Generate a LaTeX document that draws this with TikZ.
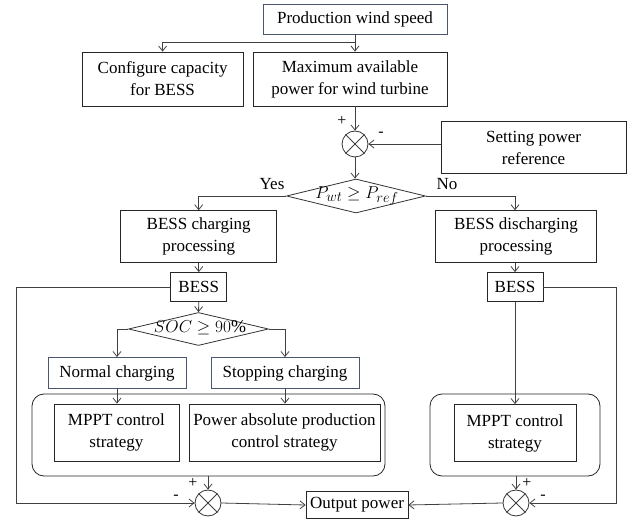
\documentclass[tikz,border=0pt]{standalone}
\usepackage{fontspec}
\setmainfont{Liberation Serif}
\usetikzlibrary{arrows.meta,shapes.geometric}
\definecolor{bluegray}{HTML}{4A5570}
\definecolor{lnc}{HTML}{404040}
\begin{document}
\begin{tikzpicture}[x=1pt,y=-1pt,
  font=\fontsize{17}{22}\selectfont,
  box/.style={draw=black!85,line width=0.8pt,rectangle,inner sep=0pt,align=center},
  bbox/.style={box,draw=bluegray},
  sumnode/.style={draw=black!80,circle,minimum size=26pt,inner sep=0pt,line width=0.8pt},
  arr/.style={draw=lnc,line width=0.8pt,-{Straight Barb[length=5pt,width=8pt]}},
  ln/.style={draw=lnc,line width=0.8pt},
  grp/.style={draw=black!85,line width=0.8pt,rounded corners=12pt,rectangle,inner sep=0pt},
  dia/.style={draw=black!80,diamond,inner sep=0pt,line width=0.8pt},
  sgn/.style={inner sep=0pt,font=\fontsize{16}{16}\selectfont},
  lbl/.style={inner sep=0pt}
]
\useasboundingbox (0,0) rectangle (627,521);

% nodes
\node[bbox,minimum width=184pt,minimum height=30pt] (ws) at (355,19) {Production wind speed};
\node[box,minimum width=161pt,minimum height=54pt] (cap) at (162.6,79) {Configure capacity\\for BESS};
\node[box,minimum width=194pt,minimum height=54pt] (maxp) at (350,79) {Maximum available\\power for wind turbine};
\node[sumnode] (s1) at (355,144) {};
\node[box,minimum width=185pt,minimum height=52pt] (setp) at (533.6,147.5) {Setting power\\reference};
\node[dia,minimum width=139pt,minimum height=34pt] (d1) at (356,196) {};
\node[lbl,font=\fontsize{19}{22}\selectfont] (d1t) at (357,196) {$P_{wt}\geq P_{ref}$};
\node[lbl] (yes) at (272,184) {Yes};
\node[lbl] (no) at (447,184) {No};
\node[box,minimum width=156pt,minimum height=52pt] (chg) at (198.7,236.7) {BESS charging\\processing};
\node[box,minimum width=161pt,minimum height=52pt] (dis) at (516,236.7) {BESS discharging\\processing};
\node[box,minimum width=56pt,minimum height=29pt] (bessL) at (198.8,287) {BESS};
\node[box,minimum width=56pt,minimum height=29pt] (bessR) at (515,287) {BESS};
\node[dia,minimum width=140pt,minimum height=33pt] (d2) at (198.5,329) {};
\node[lbl,font=\fontsize{18}{22}\selectfont] (d2t) at (200,328) {$SOC\geq 90\%$};
\node[bbox,minimum width=138pt,minimum height=31pt] (normal) at (117,373) {Normal charging};
\node[bbox,minimum width=148pt,minimum height=31pt] (stop) at (285,373) {Stopping charging};
\node[grp,minimum width=353pt,minimum height=82pt] (gL) at (208.5,435) {};
\node[grp,minimum width=170pt,minimum height=82pt] (gR) at (515,435) {};
\node[box,minimum width=125pt,minimum height=57pt] (mpptL) at (116.4,432.5) {MPPT control\\strategy};
\node[box,minimum width=191pt,minimum height=57pt] (pap) at (284.4,432.5) {Power absolute production\\control strategy};
\node[box,minimum width=122pt,minimum height=57pt] (mpptR) at (515,433) {MPPT control\\strategy};
\node[sumnode] (sL) at (208,503) {};
\node[box,minimum width=102pt,minimum height=27pt] (out) at (357,505) {Output power};
\node[sumnode] (sR) at (516,503) {};

% sum crosses
\foreach \s in {s1,sL,sR}{
  \draw[ln] (\s.north west) -- (\s.south east) (\s.north east) -- (\s.south west);
}

% signs
\node[sgn] (p1) at (342,121) {+};
\node[sgn] (m1) at (381,134) {-};
\node[sgn] (p2) at (193,483) {+};
\node[sgn] (m2) at (176,497) {-};
\node[sgn] (p3) at (527,483) {+};
\node[sgn] (m3) at (543,497) {-};

% connectors
\coordinate (br) at (355,42.3);
\draw[arr] (ws.south) -- (ws.south |- maxp.north);
\draw[arr] (br) -| (cap.north);
\draw[arr] (maxp.south -| s1) -- (s1.north);
\draw[arr] (setp.west |- s1) -- (s1.east);
\draw[arr] (s1.south) -- (s1.south |- d1.north);
\draw[arr] (d1.west) -| (chg.north);
\draw[arr] (d1.east) -| (dis.north -| bessR);
\draw[arr] (chg.south -| bessL) -- (bessL.north);
\draw[arr] (dis.south -| bessR) -- (bessR.north);
\draw[arr] (bessL.south) -- (d2.north);
\draw[arr] (d2.west) -| (normal.north);
\draw[arr] (d2.east) -| (stop.north);
\draw[arr] (normal.south) -- (normal.south |- mpptL.north);
\draw[arr] (stop.south) -- (stop.south |- pap.north);
\draw[arr] (bessR.south) -- (bessR.south |- mpptR.north);
\draw[arr] (gL.south -| sL) -- (sL.north);
\draw[arr] (gR.south -| sR) -- (sR.north);
\coordinate (lc) at (16,503);
\coordinate (rc) at (616,503);
\draw[arr] (bessL.west) -| (lc) -- (sL.west);
\draw[arr] (bessR.east) -| (rc) -- (sR.east);
\draw[arr] (sL.east) -- (out.west);
\draw[arr] (sR.west) -- (out.east);
\end{tikzpicture}
\end{document}
